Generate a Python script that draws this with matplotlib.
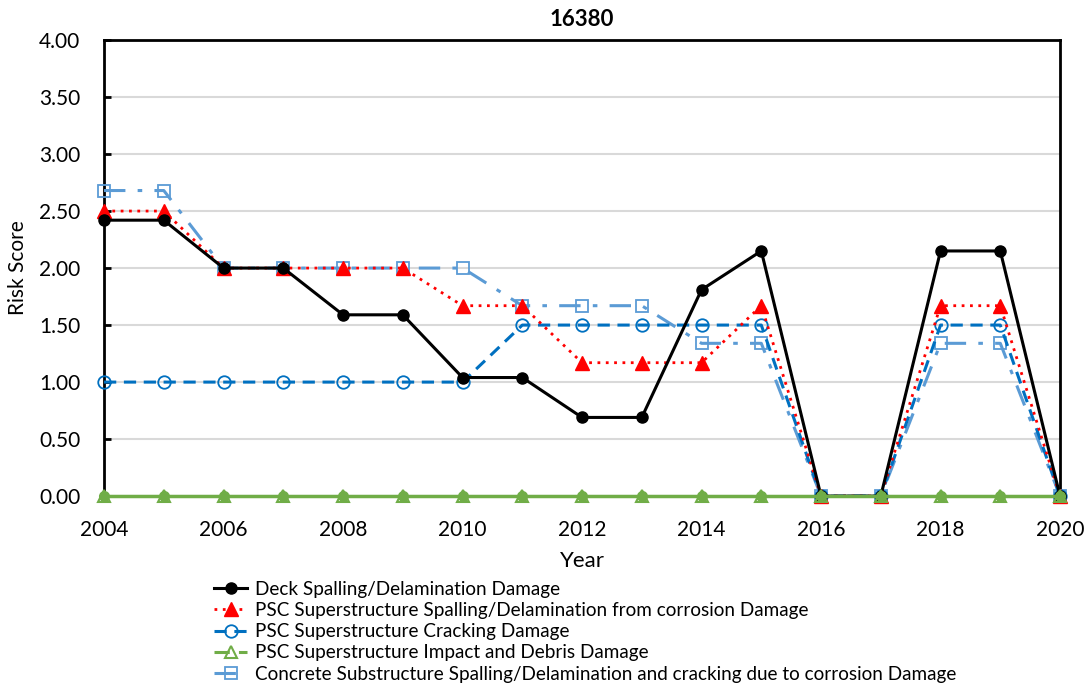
import numpy as np
import matplotlib
matplotlib.use("Agg")
import matplotlib.pyplot as plt
from matplotlib.lines import Line2D

plt.rcParams['font.family'] = ['Lato', 'DejaVu Sans']

# ============================================================
# Data
# ============================================================
years = list(range(2004, 2021))

deck = [2.42, 2.42, 2.00, 2.00, 1.59, 1.59, 1.04, 1.04, 0.69, 0.69,
        1.81, 2.15, 0.00, 0.00, 2.15, 2.15, 0.00]
psc_spall = [2.50, 2.50, 2.00, 2.00, 2.00, 2.00, 1.67, 1.67, 1.17, 1.17,
             1.17, 1.67, 0.00, 0.00, 1.67, 1.67, 0.00]
psc_crack = [1.00, 1.00, 1.00, 1.00, 1.00, 1.00, 1.00, 1.50, 1.50, 1.50,
             1.50, 1.50, 0.00, 0.00, 1.50, 1.50, 0.00]
psc_impact = [0.00] * 17
sub_spall = [2.68, 2.68, 2.00, 2.00, 2.00, 2.00, 2.00, 1.67, 1.67, 1.67,
             1.34, 1.34, 0.00, 0.00, 1.34, 1.34, 0.00]

labels = [
    "Deck Spalling/Delamination Damage",
    "PSC Superstructure Spalling/Delamination from corrosion Damage",
    "PSC Superstructure Cracking Damage",
    "PSC Superstructure Impact and Debris Damage",
    "Concrete Substructure Spalling/Delamination and cracking due to corrosion Damage",
]
yticks = [0.0, 0.5, 1.0, 1.5, 2.0, 2.5, 3.0, 3.5, 4.0]
xticks = list(range(2004, 2021, 2))

# ============================================================
# Plot
# ============================================================
fig = plt.figure(figsize=(10.87, 6.9), dpi=100)
ax = fig.add_axes([0.0957, 0.281, 0.8795, 0.661])

green = '#70AD47'
styles = {
    'deck': dict(color='black', lw=2.2, marker='o', ms=8),
    'spall': dict(color='#FF0000', lw=2, ls=(0, (1, 2)), marker='^', ms=10),
    'crack': dict(color='#0070C0', lw=2.2, ls=(0, (4, 2.5)), marker='o', ms=9,
                  mfc='none', mew=1.3),
    'impact': dict(color=green, lw=2.2, ls=(0, (5, 3)), marker='^', ms=9,
                   mfc='none', mew=1.5),
    'sub': dict(color='#5B9BD5', lw=2.2, ls=(0, (7, 4, 1.5, 4)), marker='s',
                ms=9, mfc='none', mew=1.3),
}

ax.plot(years, sub_spall, zorder=3, clip_on=False, **styles['sub'])
ax.plot(years, psc_crack, zorder=4, clip_on=False, **styles['crack'])
ax.plot(years, psc_spall, zorder=4, clip_on=False, **styles['spall'])
ax.plot(years, deck, zorder=5, clip_on=False, **styles['deck'])
ax.plot(years, psc_impact, color=green, lw=2.5, zorder=6, clip_on=False)
ax.plot(years, psc_impact, color=green, lw=0, marker='o', ms=7, zorder=6,
        clip_on=False)
ax.plot(years, psc_impact, color=green, lw=0, marker='^', ms=9, mfc='none',
        mew=1.5, zorder=6, clip_on=False)

ax.set_xlim(2004, 2020)
ax.set_ylim(0, 4)
ax.set_xticks(xticks)
ax.set_yticks(yticks)
ax.set_yticklabels([f"{v:.2f}" for v in yticks])
ax.tick_params(axis='x', length=0, labelsize=15, pad=17)
ax.tick_params(axis='y', direction='in', length=5, width=2, labelsize=15, pad=17)
ax.yaxis.grid(True, color='#D9D9D9', lw=1.5)
ax.set_axisbelow(True)
for sp in ax.spines.values():
    sp.set_linewidth(2)
    sp.set_color('black')

ax.set_title("16380", fontsize=16, fontweight='bold', pad=10)
ax.set_xlabel("Year", fontsize=16, labelpad=8)
ax.set_ylabel("Risk Score", fontsize=15, labelpad=8)

# legend
handles = [Line2D([], [], **styles[k]) for k in
           ['deck', 'spall', 'crack', 'impact', 'sub']]
fig.legend(handles, labels, loc='upper left', bbox_to_anchor=(0.19, 0.169),
           frameon=False, fontsize=13.6, handlelength=1.75, handletextpad=0.4,
           labelspacing=0.22, borderaxespad=0)

fig.savefig("out.png", dpi=100)
